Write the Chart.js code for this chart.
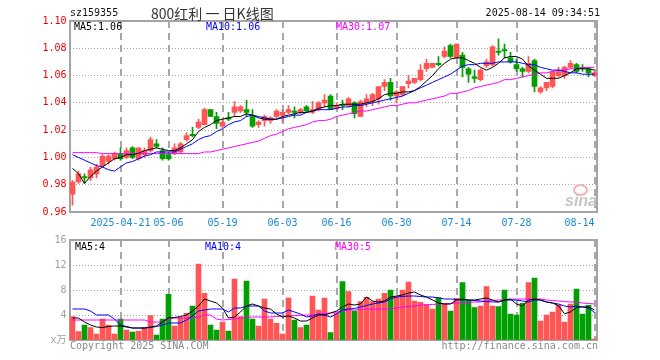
<!DOCTYPE html>
<html>
<head>
<meta charset="utf-8">
<script src="https://cdn.jsdelivr.net/npm/chart.js@4.4.0/dist/chart.umd.min.js"></script>
<style>
    body { margin: 0; background: #fff; width: 660px; height: 360px; position: relative; overflow: hidden;
           font-family: "DejaVu Sans Mono", monospace; font-size: 10px; }
    .t { position: absolute; white-space: pre; line-height: 12px; }
    #main { position: absolute; left: 0; top: 0; }
    #vol { position: absolute; left: 0; top: 230px; }
</style>
</head>
<body>
<canvas id="main" width="660" height="230"></canvas>
<canvas id="vol" width="660" height="130"></canvas>

<div class="t" style="left:70px;top:7px;color:#111">sz159355</div>
<div class="t" style="left:151px;top:4px;line-height:18px;font-family:'Noto Sans CJK SC',sans-serif;font-size:14px;color:#333">800红利 一 日K线图</div>
<div class="t" style="right:60px;top:7px;color:#111">2025-08-14 09:34:51</div>

<div class="t" style="left:74px;top:21px;color:#000">MA5:1.06</div>
<div class="t" style="left:206px;top:21px;color:#0000ff">MA10:1.06</div>
<div class="t" style="left:336px;top:21px;color:#ff00ff">MA30:1.07</div>

<div class="t" style="left:75px;top:241px;color:#000">MA5:4</div>
<div class="t" style="left:205px;top:241px;color:#0000ff">MA10:4</div>
<div class="t" style="left:335px;top:241px;color:#ff00ff">MA30:5</div>

<div style="position:absolute;left:573px;top:184px;width:11px;height:8px;border:2px solid #f2b0b0;border-radius:50%"></div>
<div class="t" style="left:565px;top:192px;line-height:14px;font:italic bold 16px 'Liberation Sans',sans-serif;color:#c6c6c6">sina</div>

<div class="t" style="left:70px;top:340px;color:#888">Copyright 2025 SINA.COM</div>
<div class="t" style="right:62px;top:340px;color:#888">http://finance.sina.com.cn</div>

<script>
    "use strict";

    // trading days shown
    var dates = [
        '04-09','04-10','04-11','04-14','04-15','04-16','04-17','04-18','04-21','04-22',
        '04-23','04-24','04-25','04-28','04-29','04-30','05-06','05-07','05-08','05-09',
        '05-12','05-13','05-14','05-15','05-16','05-19','05-20','05-21','05-22','05-23',
        '05-26','05-27','05-28','05-29','05-30','06-03','06-04','06-05','06-06','06-09',
        '06-10','06-11','06-12','06-13','06-16','06-17','06-18','06-19','06-20','06-23',
        '06-24','06-25','06-26','06-27','06-30','07-01','07-02','07-03','07-04','07-07',
        '07-08','07-09','07-10','07-11','07-14','07-15','07-16','07-17','07-18','07-21',
        '07-22','07-23','07-24','07-25','07-28','07-29','07-30','07-31','08-01','08-04',
        '08-05','08-06','08-07','08-08','08-11','08-12','08-13','08-14'
    ];
    var tickDates = ['04-21','05-06','05-19','06-03','06-16','06-30','07-14','07-28','08-14'];
    var tickText  = ['2025-04-21','05-06','05-19','06-03','06-16','06-30','07-14','07-28','08-14'];

    var open = [
        .973,.982,.986,.985,.988,.994,.997,.999,1.003,1.000,
        1.007,.999,1.002,1.005,1.010,1.005,1.002,1.003,1.004,1.013,
        1.017,1.022,1.024,1.035,1.030,1.023,1.029,1.033,1.034,1.035,
        1.030,1.024,1.027,1.027,1.030,1.031,1.033,1.034,1.033,1.037,
        1.033,1.035,1.040,1.045,1.036,1.039,1.038,1.040,1.030,1.040,
        1.041,1.043,1.052,1.055,1.045,1.046,1.054,1.055,1.057,1.065,
        1.066,1.069,1.074,1.082,1.073,1.075,1.065,1.059,1.057,1.067,
        1.068,1.078,1.079,1.073,1.068,1.065,1.063,1.071,1.048,1.051,
        1.052,1.060,1.060,1.066,1.068,1.066,1.065,1.060
    ];
    var high = [
        .983,.990,.988,.993,.995,1.002,1.002,1.004,1.007,1.007,
        1.008,1.007,1.007,1.015,1.013,1.007,1.004,1.010,1.011,1.018,
        1.022,1.028,1.036,1.035,1.033,1.027,1.033,1.041,1.038,1.042,
        1.035,1.027,1.031,1.030,1.035,1.035,1.038,1.037,1.036,1.038,
        1.041,1.041,1.046,1.046,1.040,1.042,1.044,1.041,1.042,1.046,
        1.047,1.052,1.057,1.058,1.049,1.052,1.060,1.058,1.068,1.072,
        1.069,1.074,1.081,1.083,1.083,1.077,1.066,1.064,1.065,1.072,
        1.082,1.087,1.083,1.077,1.072,1.066,1.074,1.072,1.052,1.055,
        1.063,1.066,1.067,1.071,1.069,1.068,1.066,1.063
    ];
    var low = [
        .965,.981,.981,.983,.985,.993,.995,.998,.998,.999,
        .999,.998,1.000,1.004,1.007,.998,.998,1.002,1.003,1.012,
        1.015,1.021,1.024,1.030,1.021,1.022,1.027,1.030,1.033,1.030,
        1.022,1.022,1.023,1.025,1.029,1.026,1.032,1.029,1.032,1.033,
        1.032,1.034,1.037,1.035,1.035,1.035,1.037,1.029,1.030,1.037,
        1.038,1.039,1.049,1.042,1.040,1.045,1.051,1.054,1.056,1.063,
        1.066,1.067,1.073,1.073,1.073,1.059,1.055,1.055,1.056,1.066,
        1.067,1.075,1.073,1.069,1.063,1.059,1.062,1.048,1.047,1.049,
        1.051,1.059,1.058,1.065,1.062,1.063,1.059,1.059
    ];
    var close = [
        .982,.988,.985,.991,.993,1.001,1.001,1.003,.999,1.005,
        1.000,1.007,1.005,1.013,1.008,.999,.999,1.007,1.010,1.016,
        1.016,1.026,1.035,1.030,1.025,1.026,1.028,1.037,1.037,1.033,
        1.023,1.026,1.030,1.029,1.034,1.033,1.035,1.033,1.035,1.034,
        1.035,1.040,1.042,1.035,1.038,1.038,1.043,1.032,1.041,1.043,
        1.046,1.052,1.055,1.045,1.048,1.052,1.056,1.058,1.064,1.069,
        1.069,1.068,1.078,1.074,1.083,1.066,1.061,1.058,1.064,1.070,
        1.081,1.077,1.078,1.070,1.065,1.063,1.069,1.052,1.051,1.055,
        1.063,1.063,1.066,1.069,1.063,1.065,1.062,1.062
    ];
    var ma5 = [
        .992,.988,.981,.986,.990,.993,.996,.999,1.000,1.002,
        1.002,1.003,1.005,1.006,1.007,1.006,1.005,1.005,1.007,1.010,
        1.013,1.019,1.022,1.024,1.027,1.028,1.029,1.030,1.030,1.032,
        1.031,1.029,1.028,1.028,1.028,1.030,1.031,1.032,1.033,1.033,
        1.034,1.036,1.037,1.038,1.038,1.039,1.039,1.039,1.039,1.040,
        1.041,1.043,1.046,1.047,1.047,1.048,1.048,1.049,1.052,1.056,
        1.060,1.065,1.069,1.072,1.073,1.073,1.071,1.069,1.066,1.064,
        1.066,1.069,1.073,1.074,1.074,1.072,1.067,1.064,1.061,1.058,
        1.058,1.058,1.060,1.062,1.065,1.065,1.065,1.064
    ];
    var ma10 = [
        1.002,1.000,.998,.996,.994,.993,.991,.990,.993,.996,
        .997,.999,1.001,1.002,1.004,1.004,1.004,1.004,1.006,1.008,
        1.010,1.013,1.015,1.016,1.019,1.021,1.024,1.026,1.027,1.030,
        1.031,1.030,1.029,1.028,1.028,1.029,1.030,1.031,1.031,1.033,
        1.034,1.035,1.035,1.035,1.036,1.037,1.037,1.038,1.038,1.039,
        1.040,1.041,1.042,1.043,1.044,1.045,1.047,1.049,1.051,1.053,
        1.055,1.057,1.059,1.061,1.064,1.067,1.068,1.068,1.069,1.069,
        1.069,1.070,1.070,1.070,1.070,1.069,1.068,1.068,1.066,1.065,
        1.064,1.064,1.063,1.062,1.062,1.061,1.061,1.061
    ];
    var ma30 = [
        1.0035,1.0035,1.0035,1.0035,1.0035,1.0028,1.0028,1.0028,1.0028,1.0028,
        1.0028,1.0028,1.0028,1.0028,1.0028,1.0028,1.0028,1.0028,1.0028,1.0028,
        1.0028,1.0028,1.004,1.004,1.005,1.006,1.007,1.008,1.009,1.010,
        1.011,1.012,1.014,1.016,1.017,1.019,1.021,1.022,1.023,1.024,
        1.026,1.027,1.027,1.028,1.030,1.031,1.032,1.033,1.034,1.034,
        1.035,1.036,1.037,1.038,1.038,1.039,1.040,1.040,1.041,1.042,
        1.043,1.044,1.045,1.047,1.047,1.048,1.049,1.051,1.052,1.053,
        1.054,1.055,1.057,1.057,1.058,1.059,1.060,1.061,1.062,1.062,
        1.063,1.064,1.064,1.065,1.065,1.066,1.066,1.066
    ];

    // volume, x万
    var volume = [
        3.73,1.33,2.4,1.97,0.96,3.36,2.4,0.96,3.36,1.6,
        1.28,1.44,1.97,3.89,0.8,3.36,7.31,2.24,3.63,4.27,
        5.44,12.16,7.47,2.4,1.6,2.88,1.44,9.76,3.73,9.44,
        3.36,2.24,6.56,3.36,2.67,0.96,6.72,3.2,1.97,2.4,
        7.04,4.8,6.72,1.17,4.27,9.33,7.73,4.64,6.13,6.83,
        6.13,6.56,7.47,8.0,6.93,8.0,9.28,6.24,6.03,5.71,
        4.96,6.77,5.87,4.64,6.67,9.17,6.29,5.17,5.44,8.53,
        5.44,5.33,8.0,4.16,4.0,5.87,9.17,9.92,3.04,4.0,
        4.48,5.6,2.88,5.76,8.16,4.16,5.55,0.16
    ];
    var vma5 = [
        3.52,3.52,2.88,2.4,2.08,2.0,2.16,2.24,2.24,2.08,
        1.92,1.92,1.92,2.08,2.24,2.88,3.52,3.6,3.76,4.0,
        4.64,5.44,6.56,6.24,5.92,5.12,3.52,3.68,4.48,5.44,
        5.76,5.44,5.12,4.96,4.16,3.68,3.84,3.52,3.04,3.04,
        3.52,4.0,4.0,4.32,4.64,5.28,5.76,5.6,5.76,6.88,
        6.24,6.08,6.24,6.88,7.04,7.2,7.52,7.68,7.2,6.88,
        6.4,5.92,5.76,5.76,6.4,6.56,6.4,6.4,6.56,6.72,
        6.4,6.08,6.4,6.56,5.76,5.44,6.4,6.56,6.4,6.08,
        5.92,5.5,4.2,4.5,5.2,5.3,5.3,4.8
    ];
    var vma10 = [
        4.96,4.96,4.96,4.64,4.0,4.0,4.0,3.36,2.4,2.16,
        1.92,1.92,1.92,2.0,2.16,2.4,2.72,2.72,2.72,3.2,
        3.84,4.64,4.8,4.96,4.96,4.96,4.48,5.12,5.12,5.44,
        5.44,5.44,4.64,4.32,4.32,4.32,4.8,4.48,4.16,3.68,
        3.84,4.16,4.0,3.68,4.16,4.8,4.96,5.04,5.28,5.52,
        5.76,5.92,6.08,6.56,6.88,6.96,7.04,7.04,6.96,6.88,
        6.88,6.72,6.56,6.56,6.48,6.4,6.4,6.32,6.24,6.16,
        6.08,6.08,6.4,6.4,6.4,6.24,6.08,6.4,6.4,6.08,
        5.92,5.76,5.44,5.28,5.44,5.28,5.12,4.4
    ];
    var vma30 = [
        3.2,3.2,3.2,3.2,3.2,3.2,3.2,3.2,3.2,3.2,
        3.2,3.2,3.2,2.88,2.88,2.88,3.36,3.52,3.52,3.52,
        3.52,3.68,4.0,4.0,3.36,3.2,3.28,3.36,3.52,3.6,
        3.68,3.68,3.68,3.68,3.76,3.84,3.84,3.92,3.92,4.0,
        4.0,4.16,4.24,4.32,4.48,4.64,4.8,4.8,4.88,4.96,
        4.96,4.96,4.96,4.96,5.12,5.28,5.36,5.44,5.6,5.6,
        5.68,5.76,5.76,5.84,5.92,5.92,6.0,6.08,6.08,6.24,
        6.32,6.4,6.4,6.48,6.56,6.56,6.56,6.56,6.56,6.4,
        6.32,6.24,6.16,6.08,6.08,5.92,5.84,5.76
    ];

    var RED = '#ff5555', GREEN = '#00a000';
    var colors = close.map(function (c, i) { return c >= open[i] ? RED : GREEN; });
    var MONO = "'DejaVu Sans Mono', 'Noto Sans CJK SC', monospace";

    // dashed vertical lines only under the date labels
    var dateGrid = function (ctx) {
        var d = dates[ctx.tick ? ctx.tick.value : ctx.index];
        return tickDates.indexOf(d) >= 0 ? '#a8a8a8' : 'rgba(0,0,0,0)';
    };

    // grey frame round the plot area
    var frame = {
        id: 'frame',
        beforeDatasetsDraw: function (chart) {
            var a = chart.chartArea, c = chart.ctx;
            c.save();
            c.strokeStyle = '#a4a4a4';
            c.lineWidth = 2;
            c.strokeRect(70, Math.round(a.top), 527, Math.round(a.bottom - a.top));
            c.restore();
        }
    };

    var maLine = function (data, color) {
        return { type: 'line', data: data, borderColor: color, borderWidth: 1,
                 pointRadius: 0, tension: 0, order: 0 };
    };

    var xScale = function (showTicks) {
        return {
            offset: true,
            grid: { offset: false, color: dateGrid, lineWidth: 2, drawTicks: false },
            border: { display: false, dash: [7, 5] },
            ticks: {
                display: showTicks, autoSkip: false, maxRotation: 0, minRotation: 0,
                padding: 5, align: 'inner', color: '#1a88d0',
                font: { family: MONO, size: 10 },
                callback: function (v, i) {
                    var k = tickDates.indexOf(dates[i]);
                    return k < 0 ? '' : tickText[k];
                }
            },
            afterFit: function (s) { s.height = showTicks ? 18 : 0; }
        };
    };

    // K line chart
    new Chart(document.getElementById('main'), {
        type: 'bar',
        data: {
            labels: dates,
            datasets: [
                maLine(ma5, '#000000'),
                maLine(ma10, '#0000ff'),
                maLine(ma30, '#ff00ff'),
                {
                    data: dates.map(function (d, i) { return [open[i], close[i]]; }),
                    backgroundColor: colors, barThickness: 5, minBarLength: 1,
                    grouped: false, order: 1
                },
                {
                    data: dates.map(function (d, i) { return [low[i], high[i]]; }),
                    backgroundColor: colors, barThickness: 1,
                    grouped: false, order: 2
                }
            ]
        },
        options: {
            responsive: false,
            animation: false,
            events: [],
            layout: { padding: { left: 0, right: 62.5, top: 21, bottom: 0 } },
            plugins: { legend: { display: false }, tooltip: { enabled: false } },
            scales: {
                x: xScale(true),
                y: {
                    min: 0.96, max: 1.10,
                    ticks: { stepSize: 0.02, color: '#ee0000', padding: 3,
                             font: { family: MONO, size: 10 },
                             callback: function (v) { return v.toFixed(2); } },
                    grid: { color: '#a8a8a8', lineWidth: 1, drawTicks: false },
                    border: { display: false, dash: [1, 2] },
                    afterFit: function (s) { s.width = 69.5; }
                }
            }
        },
        plugins: [frame]
    });

    // volume chart
    new Chart(document.getElementById('vol'), {
        type: 'bar',
        data: {
            labels: dates,
            datasets: [
                maLine(vma5, '#000000'),
                maLine(vma10, '#0000ff'),
                maLine(vma30, '#ff00ff'),
                { data: volume, backgroundColor: colors, barThickness: 5, order: 1 }
            ]
        },
        options: {
            responsive: false,
            animation: false,
            events: [],
            layout: { padding: { left: 0, right: 62.5, top: 10, bottom: 20 } },
            plugins: { legend: { display: false }, tooltip: { enabled: false } },
            scales: {
                x: xScale(false),
                y: {
                    min: 0, max: 16,
                    ticks: { stepSize: 4, color: '#a0a0a0', padding: 3,
                             font: { family: MONO, size: 10 },
                             callback: function (v) { return v === 0 ? 'x万' : v; } },
                    grid: { color: '#a8a8a8', lineWidth: 1, drawTicks: false },
                    border: { display: false, dash: [1, 2] },
                    afterFit: function (s) { s.width = 69.5; }
                }
            }
        },
        plugins: [frame]
    });
</script>
</body>
</html>
